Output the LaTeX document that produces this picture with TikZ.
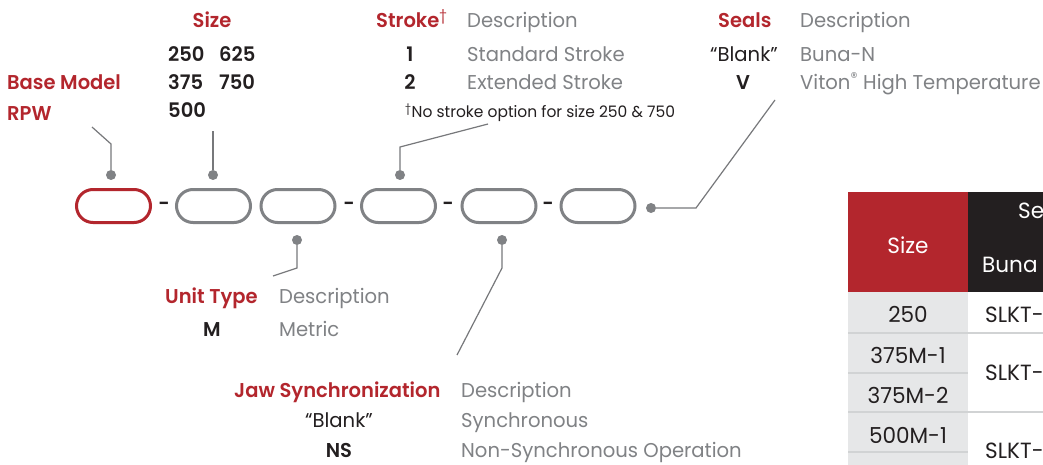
\documentclass[tikz,border=0pt]{standalone}
\usepackage{fontspec}
\setmainfont{Poppins}[FakeStretch=0.98, BoldFont={Poppins SemiBold}, BoldFeatures={FakeStretch=0.975}]
\definecolor{rred}{HTML}{B3262D}
\definecolor{tgray}{HTML}{808285}
\definecolor{tblack}{HTML}{231F20}
\definecolor{pgray}{HTML}{808285}
\definecolor{lgray}{HTML}{77787B}
\definecolor{cellgray}{HTML}{E6E7E8}
\definecolor{sepgray}{HTML}{D1D3D4}
\begin{document}
\begin{tikzpicture}[x=1pt,y=-1pt,
  txt/.style={inner sep=0pt, anchor=base west, font=\fontsize{20}{24}\selectfont},
  hd/.style={txt, text=rred, font=\fontsize{20}{24}\selectfont\bfseries},
  ds/.style={txt, text=tgray},
  cd/.style={txt, text=tblack, font=\fontsize{20}{24}\selectfont\bfseries},
  cdr/.style={txt, text=tblack},
  pill/.style={draw=pgray, line width=3pt, rectangle, rounded corners=16.5pt, minimum width=74pt, minimum height=33pt, inner sep=0pt},
  dot/.style={circle, fill=pgray, inner sep=0pt, minimum size=10pt},
  conn/.style={draw=lgray, line width=1.2pt},
  dashmark/.style={inner sep=0pt, text=tblack, font=\fontsize{20}{24}\selectfont\bfseries},
  tb/.style={inner sep=0pt, anchor=base, font=\fontsize{22}{26}\selectfont, text=tblack},
]
\useasboundingbox (0,0) rectangle (1043,465);
\fill[white] (0,0) rectangle (1043,465);

% ---- pills
\node[pill, draw=rred] (p1) at (113.5,206) {};
\node[pill] (p2) at (213.5,206) {};
\node[pill] (p3) at (298,206) {};
\node[pill] (p4) at (398.5,206) {};
\node[pill] (p5) at (499,206) {};
\node[pill] (p6) at (598,206) {};
\node[dashmark] (m1) at (164,206) {-};
\node[dashmark] (m2) at (349,206) {-};
\node[dashmark] (m3) at (448,206) {-};
\node[dashmark] (m4) at (548,206) {-};

% ---- dots
\node[dot] (d1) at (111,175) {};
\node[dot] (d2) at (213,175) {};
\node[dot] (d4) at (400,175) {};
\node[dot] (d3) at (297,240) {};
\node[dot] (d5) at (502,240) {};
\node[dot] (d6) at (651,208) {};

% ---- connector bends and ends
\coordinate (k1) at (111,144);
\coordinate (e1) at (92,127);
\coordinate (e2) at (213,131);
\coordinate (k4) at (400,147);
\coordinate (e4) at (488,124);
\coordinate (k3) at (297,268);
\coordinate (e3) at (273,276);
\coordinate (k5) at (502,268);
\coordinate (e5) at (457,355);
\coordinate (k6) at (696,208);
\coordinate (e6) at (775,100);

\draw[conn] (d1) -- (k1) -- (e1);
\draw[conn] (d2) -- (e2);
\draw[conn] (d4) -- (k4) -- (e4);
\draw[conn] (d3) -- (k3) -- (e3);
\draw[conn] (d5) -- (k5) -- (e5);
\draw[conn] (d6) -- (k6) -- (e6);

% ---- Base model
\node[hd] (bm) at (7,90) {Base Model};
\node[hd] (rpw) at (7,121) {RPW};

% ---- Size
\node[hd, anchor=base] (sz) at (212,28) {Size};
\node[cd] (s1) at (168,62) {250};
\node[cd] (s2) at (219,62) {625};
\node[cd] (s3) at (168,90) {375};
\node[cd] (s4) at (219,90) {750};
\node[cd] (s5) at (168,118) {500};

% ---- Stroke
\node[hd] (st) at (376,28) {Stroke\textsuperscript{\mdseries†}};
\node[ds] (std) at (467,28) {Description};
\node[cd, anchor=base] (st1) at (410,62) {1};
\node[ds] (st1d) at (467,62) {Standard Stroke};
\node[cd, anchor=base] (st2) at (410,90) {2};
\node[ds] (st2d) at (467,90) {Extended Stroke};
\node[txt, text=tblack, font=\fontsize{15.8}{18}\selectfont] (fn) at (405,118) {\textsuperscript{†}No stroke option for size 250 \& 750};

% ---- Seals
\node[hd] (se) at (718,28) {Seals};
\node[ds] (sed) at (800,28) {Description};
\node[cdr, anchor=base] (se1) at (744,62) {“Blank”};
\node[ds] (se1d) at (800,62) {Buna-N};
\node[cd, anchor=base] (se2) at (743,90) {V};
\node[ds] (se2d) at (800,90) {Viton\textsuperscript{®} High Temperature};

% ---- Unit type
\node[hd] (ut) at (165,303) {Unit Type};
\node[ds] (utd) at (279,303) {Description};
\node[cd, anchor=base] (ut1) at (212,336) {M};
\node[ds] (ut1d) at (279,336) {Metric};

% ---- Jaw sync
\node[hd] (js) at (234,397) {Jaw Synchronization};
\node[ds] (jsd) at (461,397) {Description};
\node[cdr, anchor=base] (js1) at (339,427) {“Blank”};
\node[ds] (js1d) at (461,427) {Synchronous};
\node[cd, anchor=base] (js2) at (339,457) {NS};
\node[ds] (js2d) at (461,457) {Non-Synchronous Operation};

% ---- table
\begin{scope}
\clip (848,150) rectangle (1043,465);
\fill[rred] (848,192) rectangle (968,292);
\fill[tblack] (968,192) rectangle (1043,292);
\fill[cellgray] (848,292) rectangle (968,465);
\draw[sepgray, line width=2.5pt] (848,333) -- (1043,333);
\draw[sepgray, line width=2pt] (848,373) -- (968,373);
\draw[sepgray, line width=2.5pt] (848,412) -- (1043,412);
\draw[sepgray, line width=2pt] (848,452) -- (968,452);
\node[tb, text=white] (th1) at (908,253) {Size};
\node[tb, text=white, anchor=base west] (th2) at (1018,218) {Se};
\node[tb, text=white, anchor=base west] (th3) at (982,272) {Buna};
\node[tb] (r1) at (908,322) {250};
\node[tb] (r2) at (908,363) {375M-1};
\node[tb] (r3) at (908,403) {375M-2};
\node[tb] (r4) at (908,443) {500M-1};
\node[tb] (r5) at (908,483) {500M-2};
\node[tb, anchor=base west] (c1) at (985,322) {SLKT-};
\node[tb, anchor=base west] (c2) at (985,380) {SLKT-};
\node[tb, anchor=base west] (c3) at (985,458) {SLKT-};
\end{scope}
\end{tikzpicture}
\end{document}
